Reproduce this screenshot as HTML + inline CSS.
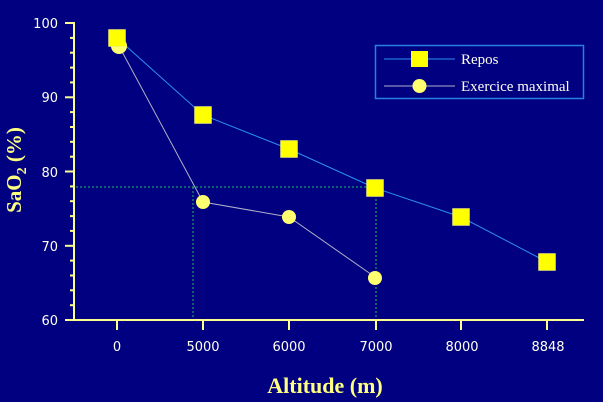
<!DOCTYPE html>
<html><head><meta charset="utf-8"><style>
html,body{margin:0;padding:0;background:#000080;}
svg{display:block;}
</style></head><body>
<svg width="603" height="402" viewBox="0 0 603 402" xmlns="http://www.w3.org/2000/svg">
<rect width="603" height="402" fill="#000080"/>
<!-- guide lines -->
<g stroke="#1fc060" stroke-width="1" stroke-dasharray="2,2" fill="none">
<line x1="76" y1="187" x2="376" y2="187"/>
<line x1="193" y1="187" x2="193" y2="320"/>
<line x1="376" y1="187" x2="376" y2="320"/>
</g>
<!-- axes -->
<g stroke="#ffff90" stroke-width="2" fill="none">
<line x1="74" y1="22" x2="74" y2="321"/>
<line x1="73" y1="320" x2="584" y2="320"/>
<line x1="65" y1="23" x2="74" y2="23"/>
<line x1="65" y1="97.3" x2="74" y2="97.3"/>
<line x1="65" y1="171.5" x2="74" y2="171.5"/>
<line x1="65" y1="245.8" x2="74" y2="245.8"/>
<line x1="65" y1="320" x2="74" y2="320"/>
<line x1="70" y1="37.9" x2="74" y2="37.9"/>
<line x1="70" y1="52.7" x2="74" y2="52.7"/>
<line x1="70" y1="67.6" x2="74" y2="67.6"/>
<line x1="70" y1="82.4" x2="74" y2="82.4"/>
<line x1="70" y1="112.1" x2="74" y2="112.1"/>
<line x1="70" y1="127" x2="74" y2="127"/>
<line x1="70" y1="141.8" x2="74" y2="141.8"/>
<line x1="70" y1="156.7" x2="74" y2="156.7"/>
<line x1="70" y1="186.4" x2="74" y2="186.4"/>
<line x1="70" y1="201.2" x2="74" y2="201.2"/>
<line x1="70" y1="216.1" x2="74" y2="216.1"/>
<line x1="70" y1="230.9" x2="74" y2="230.9"/>
<line x1="70" y1="260.6" x2="74" y2="260.6"/>
<line x1="70" y1="275.5" x2="74" y2="275.5"/>
<line x1="70" y1="290.3" x2="74" y2="290.3"/>
<line x1="70" y1="305.2" x2="74" y2="305.2"/>
<line x1="117" y1="320" x2="117" y2="330"/>
<line x1="203" y1="320" x2="203" y2="330"/>
<line x1="289" y1="320" x2="289" y2="330"/>
<line x1="376" y1="320" x2="376" y2="330"/>
<line x1="461" y1="320" x2="461" y2="330"/>
<line x1="547" y1="320" x2="547" y2="330"/>
</g>
<!-- tick labels -->
<g font-family="'DejaVu Sans','Liberation Sans',sans-serif" font-size="13" fill="#fffff0">
<g text-anchor="end">
<text x="58" y="28">100</text>
<text x="58" y="102">90</text>
<text x="58" y="177">80</text>
<text x="58" y="251">70</text>
<text x="58" y="325">60</text>
</g>
<g text-anchor="middle">
<text x="117" y="351">0</text>
<text x="203" y="351">5000</text>
<text x="289" y="351">6000</text>
<text x="376" y="351">7000</text>
<text x="462" y="351">8000</text>
<text x="548" y="351">8848</text>
</g>
</g>
<!-- axis titles -->
<text x="325" y="393" text-anchor="middle" font-family="'Liberation Serif',serif" font-weight="bold" font-size="22" fill="#ffff80">Altitude (m)</text>
<text transform="translate(21,170) rotate(-90)" text-anchor="middle" font-family="'Liberation Serif',serif" font-weight="bold" font-size="21" fill="#ffff80">SaO<tspan font-size="14" dy="5">2</tspan><tspan dy="-5"> (%)</tspan></text>
<!-- series lines -->
<polyline points="119,46 203,202 289,217 375,277" fill="none" stroke="#b0b0c8" stroke-width="1"/>
<polyline points="117,38 203,115 289,149 375,188 461,217 547,262" fill="none" stroke="#2a90f0" stroke-width="1"/>
<!-- circles -->
<g fill="#ffff70">
<circle cx="119" cy="46" r="8"/>
<circle cx="203" cy="202" r="7"/>
<circle cx="289" cy="217" r="7"/>
<circle cx="375" cy="278" r="7"/>
</g>
<!-- squares -->
<g fill="#ffff00" stroke="#e8e8a0" stroke-width="0.5">
<rect x="108.5" y="29.5" width="17" height="17"/>
<rect x="194.5" y="106.5" width="17" height="17"/>
<rect x="280.5" y="140.5" width="17" height="17"/>
<rect x="366.5" y="179.5" width="17" height="17"/>
<rect x="452.5" y="208.5" width="17" height="17"/>
<rect x="538.5" y="253.5" width="17" height="17"/>
</g>
<!-- legend -->
<rect x="375.5" y="45.5" width="208" height="53" fill="none" stroke="#2a80e0" stroke-width="1.5"/>
<line x1="384" y1="59" x2="455" y2="59" stroke="#2a90f0" stroke-width="1"/>
<rect x="411" y="51" width="17" height="16" fill="#ffff00"/>
<line x1="384" y1="86" x2="455" y2="86" stroke="#b0b0c8" stroke-width="1"/>
<circle cx="419.5" cy="86" r="7" fill="#ffff70"/>
<g font-family="'Liberation Serif',serif" font-size="15" fill="#fffff0">
<text x="461" y="64">Repos</text>
<text x="461" y="91">Exercice maximal</text>
</g>
</svg>
</body></html>
